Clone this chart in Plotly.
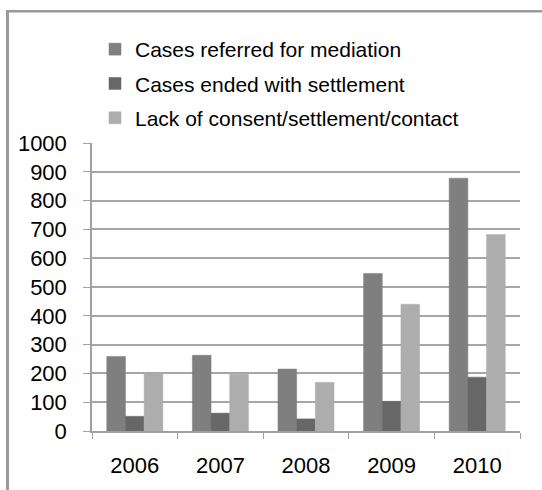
import plotly.graph_objects as go

years = ["2006", "2007", "2008", "2009", "2010"]
referred = [259, 263, 215, 547, 878]
settled = [51, 62, 42, 103, 187]
lack = [201, 197, 169, 440, 682]
y_ticks = [0, 100, 200, 300, 400, 500, 600, 700, 800, 900, 1000]

series = [
    ("Cases referred for mediation", referred, "#7f7f7f"),
    ("Cases ended with settlement", settled, "#676767"),
    ("Lack of consent/settlement/contact", lack, "#adadad"),
]

fig = go.Figure()
for i, (name, vals, col) in enumerate(series):
    fig.add_trace(go.Bar(
        x=years, y=vals, name=name, legendgroup=f"g{i}",
        marker=dict(color=col, line=dict(color=col, width=0.5)),
    ))

L, R, T, B = 92, 22, 143, 59
W, H = 542, 490
pw, ph = W - L - R, H - T - B

def px_x(p):
    return (p - L) / pw

def px_y(p):
    return (H - B - p) / ph

fig.update_layout(
    width=W, height=H,
    margin=dict(l=L, r=R, t=T, b=B, pad=0),
    paper_bgcolor="white", plot_bgcolor="white",
    barmode="group", bargap=0.345, bargroupgap=0,
    font=dict(family="Liberation Sans, Arial", color="#000000"),
    legend=dict(
        x=px_x(95), y=px_y(29), xanchor="left", yanchor="top",
        font=dict(size=21, color="#000000"), itemwidth=30,
        tracegroupgap=4, bgcolor="rgba(0,0,0,0)",
    ),
    xaxis=dict(
        showgrid=False, showline=True, linecolor="#a0a0a0", linewidth=1.5,
        ticks="outside", tickson="boundaries", ticklen=6, tickcolor="#a0a0a0",
        tickfont=dict(size=22), ticklabelstandoff=14, fixedrange=True,
    ),
    yaxis=dict(
        range=[0, 1000], tickvals=y_ticks, showgrid=True, gridcolor="#a6a6a6",
        gridwidth=1.5, showline=True, linecolor="#a0a0a0", linewidth=1.5,
        ticks="outside", ticklen=7, tickcolor="#a0a0a0",
        tickfont=dict(size=22), ticklabelstandoff=12,
        zeroline=False, fixedrange=True,
    ),
    shapes=[
        dict(type="rect", xref="paper", yref="paper",
             x0=px_x(6), x1=px_x(9), y0=px_y(10), y1=px_y(490),
             line=dict(width=0), fillcolor="#9a9a9a", layer="above"),
        dict(type="rect", xref="paper", yref="paper",
             x0=px_x(6), x1=px_x(542), y0=px_y(10), y1=px_y(12.5),
             line=dict(width=0), fillcolor="#999999", layer="above"),
    ],
)

fig.write_html("out.html")
